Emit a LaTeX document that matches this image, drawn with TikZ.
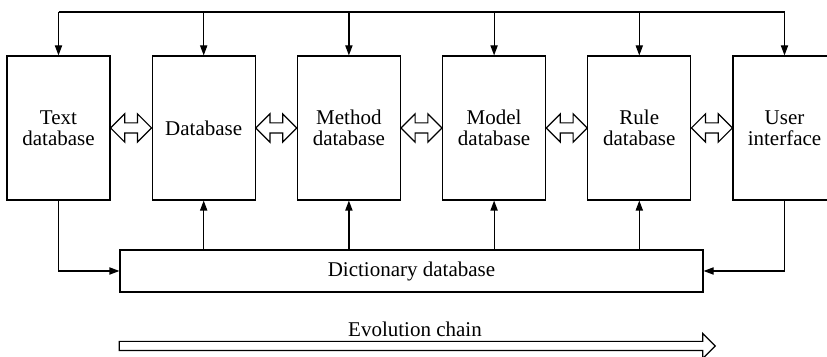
\documentclass[tikz,border=0pt]{standalone}
\usepackage{fontspec}
\setmainfont{Liberation Serif}
\usetikzlibrary{arrows.meta,positioning,shapes.arrows,calc}

\begin{document}
\begin{tikzpicture}
	[->,>={Triangle[length=5pt,width=3.6pt]},line width=0.6pt,node distance=20.5pt,
		font=\fontsize{10.5}{10.5}\selectfont,
		db node/.style={rectangle,draw,minimum width=51.5pt,minimum height=72pt,inner sep=0pt,align=center},
		link node/.style={double arrow,draw,-,minimum height=20.5pt,minimum width=13.5pt,double arrow head extend=4.5pt,inner sep=2.25pt},
		chain node/.style={single arrow,draw,-,minimum height=298pt,minimum width=12pt,single arrow head extend=4pt,inner sep=2pt}]

	\useasboundingbox (0,0) rectangle (413.5pt,-178.5pt);

	\node[db node] (T) at (29.25pt,-64pt) {Text\\database};
	\node[db node] (D)[right=of T] {Database};
	\node[db node] (Me)[right=of D] {Method\\database};
	\node[db node] (Mo)[right=of Me] {Model\\database};
	\node[db node] (R)[right=of Mo] {Rule\\database};
	\node[db node] (U)[right=of R] {User\\interface};

	\node[draw,minimum width=291.5pt,minimum height=21pt,inner sep=0pt] (Dict) at (205.75pt,-135.5pt) {Dictionary database};

	% top bus
	\coordinate (bus) at (0,-6pt);
	\draw[-] (T.north |- bus) -- (U.north |- bus);
	\foreach \n in {T,D,Me,Mo,R,U}
		\draw (\n.north |- bus) -- (\n.north);

	% double arrows between neighbours
	\node[link node] at ($(T.east)!0.5!(D.west)$) {};
	\node[link node] at ($(D.east)!0.5!(Me.west)$) {};
	\node[link node] at ($(Me.east)!0.5!(Mo.west)$) {};
	\node[link node] at ($(Mo.east)!0.5!(R.west)$) {};
	\node[link node] at ($(R.east)!0.5!(U.west)$) {};

	% dictionary links
	\foreach \n in {D,Me,Mo,R}
		\draw (Dict.north -| \n.south) -- (\n.south);
	\draw (T.south) |- (Dict.west);
	\draw (U.south) |- (Dict.east);

	% evolution chain
	\node[chain node] (Evo) at (207.5pt,-173pt) {};
	\node[above=-1.5pt of Evo] (EvoLabel) {Evolution chain};
\end{tikzpicture}
\end{document}
